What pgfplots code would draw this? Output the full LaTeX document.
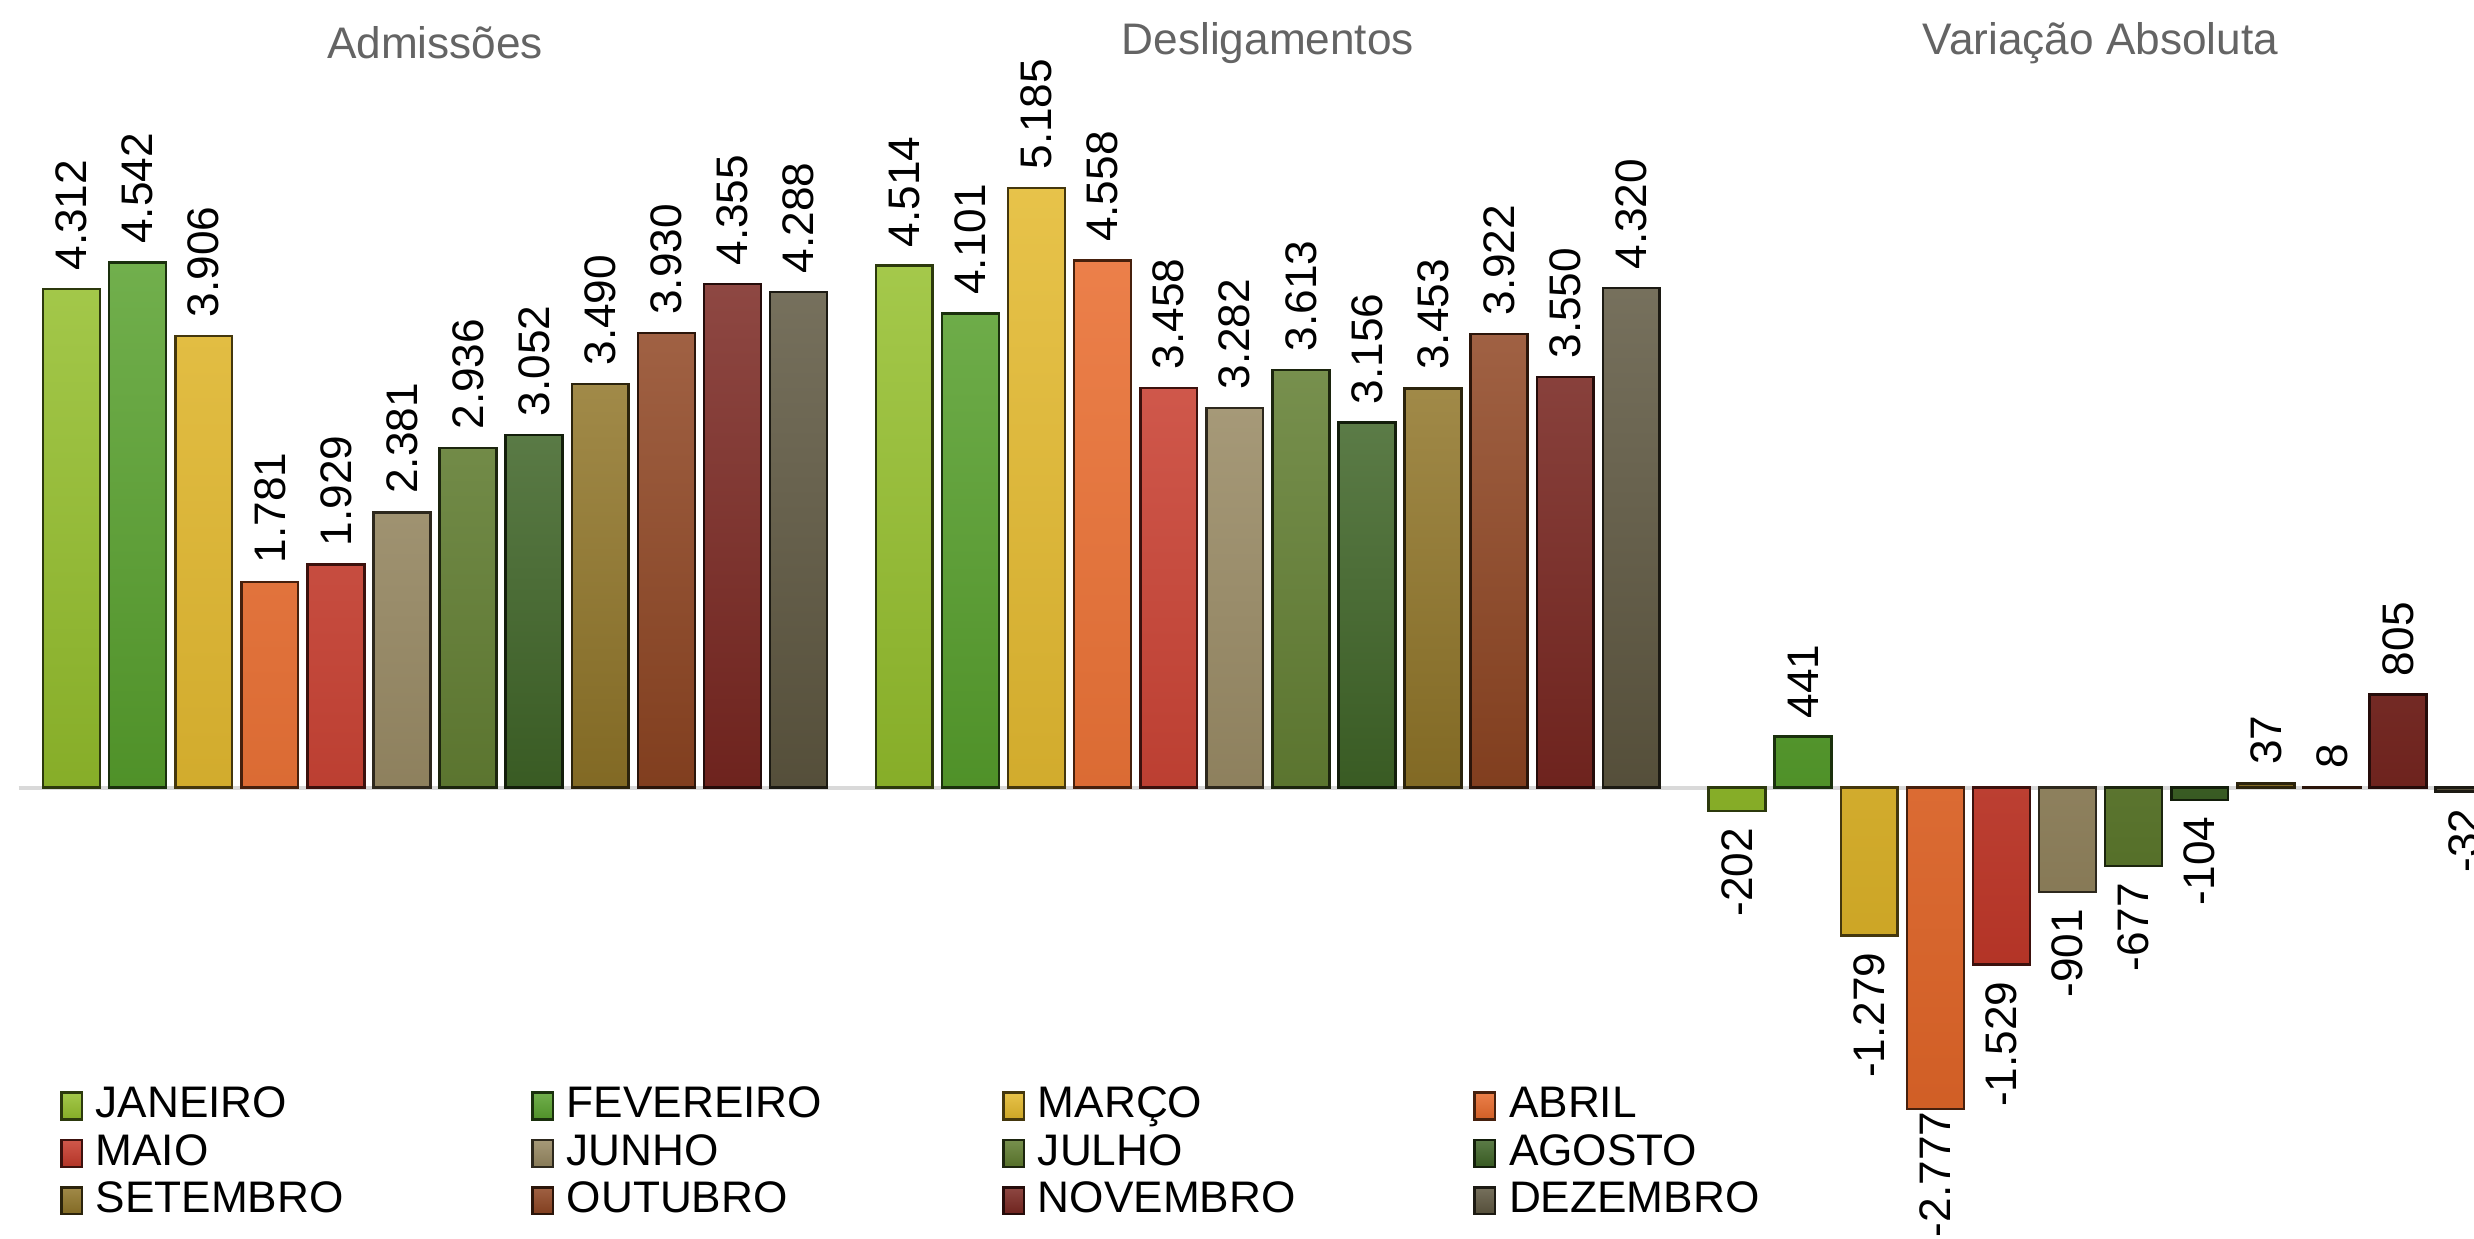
\documentclass[border=0pt]{standalone}
\usepackage{pgfplots}
\pgfplotsset{compat=1.18}
\usepackage{fontspec}
\setmainfont{Liberation Sans}

% month colours (middle tone of the gradient bars)
\definecolor{cjan}{HTML}{94BF2B}
\definecolor{cfev}{HTML}{58A12D}
\definecolor{cmar}{HTML}{E3B82A}
\definecolor{cabr}{HTML}{E8692A}
\definecolor{cmai}{HTML}{C73A2B}
\definecolor{cjun}{HTML}{968760}
\definecolor{cjul}{HTML}{5F7C2E}
\definecolor{cago}{HTML}{3E6426}
\definecolor{cset}{HTML}{907528}
\definecolor{cout}{HTML}{8F4522}
\definecolor{cnov}{HTML}{7A2721}
\definecolor{cdez}{HTML}{5E5740}
\definecolor{titlegray}{RGB}{100,100,100}

\pgfplotsset{
  mes/.style={top color=#1!85!white, bottom color=#1!90!black, draw=#1!30!black, line width=0.8pt},
}

\begin{document}
\begin{tikzpicture}
\begin{axis}[
  scale only axis, width=784pt, height=392.5pt,
  xmin=-1.082, xmax=36.35, ymin=-3898, ymax=6811,
  hide axis, clip=true,
  ybar, bar width=0.86, bar shift=0pt,
  nodes near coords,
  /pgf/number format/.cd, fixed, precision=0, 1000 sep={.}, assume math mode=true,
  /pgfplots/.cd,
  visualization depends on={rawy \as \rawy},
  every node near coord/.append style={font=\fontsize{14}{16}\selectfont, text=black, rotate=90,
    /utils/exec={%
      \pgfmathparse{\rawy<0}%
      \ifnum\pgfmathresult=1 \gdef\lblanchor{east}\gdef\lblsep{5pt}\else\gdef\lblanchor{west}\gdef\lblsep{5.5pt}\fi
      \pgfmathparse{\rawy<-2500}%
      \ifnum\pgfmathresult=1 \gdef\lblsep{0.5pt}\fi},
    anchor=\lblanchor, inner sep=\lblsep},
  legend columns=4,
  legend style={draw=none, fill=none, at={(rel axis cs:0.024,0.126)}, anchor=north west,
    inner sep=0pt, row sep=0pt, font=\fontsize{14}{16}\selectfont,
    nodes={text width=134pt, inner xsep=4pt, inner ysep=1pt, text height=10pt, text depth=3pt}},
  legend image code/.code={\draw[#1, line width=0.8pt] (0pt,-4pt) rectangle (6.5pt,4.5pt);},
]
\draw[black!15, line width=1.2pt] (axis cs:-0.8,0) -- (axis cs:37,0);

\addplot[mes=cjan] coordinates {(0,4312) (12.6,4514) (25.2,-202)};
\addplot[mes=cfev] coordinates {(1,4542) (13.6,4101) (26.2,441)};
\addplot[mes=cmar] coordinates {(2,3906) (14.6,5185) (27.2,-1279)};
\addplot[mes=cabr] coordinates {(3,1781) (15.6,4558) (28.2,-2777)};
\addplot[mes=cmai] coordinates {(4,1929) (16.6,3458) (29.2,-1529)};
\addplot[mes=cjun] coordinates {(5,2381) (17.6,3282) (30.2,-901)};
\addplot[mes=cjul] coordinates {(6,2936) (18.6,3613) (31.2,-677)};
\addplot[mes=cago] coordinates {(7,3052) (19.6,3156) (32.2,-104)};
\addplot[mes=cset] coordinates {(8,3490) (20.6,3453) (33.2,37)};
\addplot[mes=cout] coordinates {(9,3930) (21.6,3922) (34.2,8)};
\addplot[mes=cnov] coordinates {(10,4355) (22.6,3550) (35.2,805)};
\addplot[mes=cdez] coordinates {(11,4288) (23.6,4320) (36.2,-32)};
\legend{JANEIRO,FEVEREIRO,MARÇO,ABRIL,MAIO,JUNHO,JULHO,AGOSTO,SETEMBRO,OUTUBRO,NOVEMBRO,DEZEMBRO}

\node[font=\fontsize{14}{16}\selectfont, text=titlegray] at (axis cs:5.5,6439) {Admissões};
\node[font=\fontsize{14}{16}\selectfont, text=titlegray] at (axis cs:18.1,6439) {Desligamentos};
\node[font=\fontsize{14}{16}\selectfont, text=titlegray] at (axis cs:30.7,6439) {Variação Absoluta};

\coordinate (bl) at (rel axis cs:0,0);
\coordinate (tr) at (rel axis cs:1,1);
\end{axis}
\pgfresetboundingbox
\useasboundingbox (bl) rectangle (tr);
\end{tikzpicture}
\end{document}
